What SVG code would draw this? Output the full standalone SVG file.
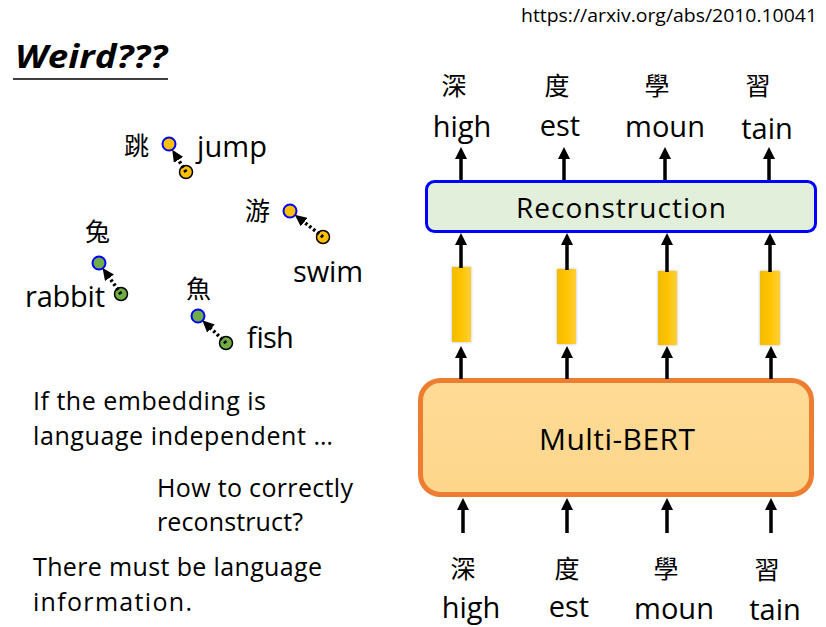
<svg xmlns="http://www.w3.org/2000/svg" width="826" height="627" viewBox="0 0 826 627">
<style>
  .t { font-family: "Open Sans", "Noto Sans CJK TC", sans-serif; fill: #000; }
  .cjk { font-family: "Noto Sans CJK TC", sans-serif; fill: #000; font-size: 25px; }
  .lab { font-size: 29px; text-anchor: middle; }
  .body { font-size: 25px; }
  .pt { font-size: 29px; }
  .arr { stroke: #000; stroke-width: 3.5; fill: none; marker-end: url(#ah); }
  .dot { stroke: #000; stroke-width: 3.5; stroke-dasharray: 2.5 2.5; fill: none; marker-end: url(#dh); }
  .yb { fill: url(#yg); filter: url(#sh); }
  .blueY { fill: #FFC000; stroke: #0000FF; stroke-width: 2; }
  .blueG { fill: #70AD47; stroke: #0000FF; stroke-width: 2; }
  .blkY { fill: #FFC000; stroke: #000; stroke-width: 1.5; }
  .blkG { fill: #70AD47; stroke: #000; stroke-width: 1.5; }
</style>
<defs>
  <marker id="ah" markerUnits="userSpaceOnUse" markerWidth="12" markerHeight="12" viewBox="0 0 12 12" refX="1" refY="6" orient="auto">
    <path d="M0,0 L12,6 L0,12 z" fill="#000"/>
  </marker>
  <marker id="dh" markerUnits="userSpaceOnUse" markerWidth="12" markerHeight="11" viewBox="0 0 12 11" refX="1" refY="5.5" orient="auto">
    <path d="M0,0 L12,5.5 L0,11 z" fill="#000"/>
  </marker>
  <linearGradient id="yg" x1="0" y1="0" x2="1" y2="0">
    <stop offset="0" stop-color="#F2BC00"/>
    <stop offset="0.5" stop-color="#FFC400"/>
    <stop offset="1" stop-color="#FFCF3A"/>
  </linearGradient>
  <linearGradient id="og" x1="0" y1="0" x2="0" y2="1">
    <stop offset="0" stop-color="#FFDB96"/>
    <stop offset="1" stop-color="#FDD68B"/>
  </linearGradient>
  <filter id="sh" x="-50%" y="-20%" width="200%" height="140%">
    <feDropShadow dx="0" dy="0" stdDeviation="1.5" flood-color="#888" flood-opacity="0.6"/>
  </filter>
</defs>
<rect width="826" height="627" fill="#fff"/>

<g id="url"><text class="t" x="817" y="22" font-size="19" text-anchor="end" textLength="296" lengthAdjust="spacingAndGlyphs">https://arxiv.org/abs/2010.10041</text></g>

<g id="title">
  <text class="t" x="15" y="68" font-size="32" font-weight="bold" font-style="italic" textLength="152" lengthAdjust="spacingAndGlyphs">Weird???</text>
  <line x1="13" y1="79" x2="168" y2="79" stroke="#000" stroke-width="1.5"/>
</g>

<g id="pt-jump">
  <text class="cjk" x="124" y="155" font-size="26">跳</text>
  <text class="t pt" x="197" y="157" textLength="70">jump</text>
  <circle class="blueY" cx="169" cy="144" r="6.5"/>
  <circle class="blkY" cx="186" cy="172" r="6.5"/>
</g>
<g id="pt-swim">
  <text class="cjk" x="245" y="220" font-size="26">游</text>
  <text class="t pt" x="293" y="282" textLength="70">swim</text>
  <circle class="blueY" cx="290" cy="211" r="6.5"/>
  <circle class="blkY" cx="323" cy="237" r="6.5"/>
</g>
<g id="pt-rabbit">
  <text class="cjk" x="85" y="241" font-size="26">兔</text>
  <text class="t pt" x="25" y="307" textLength="80">rabbit</text>
  <circle class="blueG" cx="99" cy="263" r="6.5"/>
  <circle class="blkG" cx="121" cy="294" r="6.5"/>
</g>
<g id="pt-fish">
  <text class="cjk" x="186" y="298" font-size="26">魚</text>
  <text class="t pt" x="246" y="348" textLength="47">fish</text>
  <circle class="blueG" cx="198" cy="316" r="6.5"/>
  <circle class="blkG" cx="226" cy="343" r="6.5"/>
</g>

<g id="notes">
  <text class="t body" x="33" y="410" textLength="233">If the embedding is</text>
  <text class="t body" x="33" y="445" textLength="300">language independent …</text>
  <text class="t body" x="157" y="497" textLength="196">How to correctly</text>
  <text class="t body" x="157" y="531" textLength="146">reconstruct?</text>
  <text class="t body" x="33" y="576" textLength="289">There must be language</text>
  <text class="t body" x="33" y="611" textLength="159">information.</text>
</g>

<g id="out-labels">
  <text class="cjk" x="454" y="95" text-anchor="middle" font-size="26">深</text>
  <text class="cjk" x="557" y="95" text-anchor="middle" font-size="26">度</text>
  <text class="cjk" x="657" y="95" text-anchor="middle" font-size="26">學</text>
  <text class="cjk" x="758" y="95" text-anchor="middle" font-size="26">習</text>
  <text class="t lab" x="462" y="137">high</text>
  <text class="t lab" x="560" y="136">est</text>
  <text class="t lab" x="665" y="137">moun</text>
  <text class="t lab" x="767" y="139">tain</text>
</g>

<g id="reconstruction">
  <rect x="426.5" y="181.5" width="389" height="50" rx="8" fill="#E2EFDA" stroke="#0000FF" stroke-width="3"/>
  <text class="t" x="621" y="218" font-size="28" text-anchor="middle" textLength="210">Reconstruction</text>
</g>

<g id="vectors">
  <rect class="yb" x="452" y="267" width="19" height="75"/>
  <rect class="yb" x="557" y="269" width="19" height="75"/>
  <rect class="yb" x="658" y="271" width="19" height="74"/>
  <rect class="yb" x="760" y="271" width="20" height="74"/>
</g>

<g id="multibert">
  <rect x="420.5" y="380.5" width="391" height="114" rx="20" fill="url(#og)" stroke="#ED7D31" stroke-width="5"/>
  <text class="t" x="617" y="450" font-size="30" text-anchor="middle" textLength="156">Multi-BERT</text>
</g>

<g id="in-labels">
  <text class="cjk" x="463" y="578" text-anchor="middle" font-size="26">深</text>
  <text class="cjk" x="567" y="578" text-anchor="middle" font-size="26">度</text>
  <text class="cjk" x="666" y="578" text-anchor="middle" font-size="26">學</text>
  <text class="cjk" x="767" y="579" text-anchor="middle" font-size="26">習</text>
  <text class="t lab" x="471" y="618">high</text>
  <text class="t lab" x="569" y="617">est</text>
  <text class="t lab" x="674" y="619">moun</text>
  <text class="t lab" x="775" y="620">tain</text>
</g>

<g id="connectors">
  <line class="arr" x1="461" y1="180" x2="461" y2="158"/>
  <line class="arr" x1="564" y1="180" x2="564" y2="158"/>
  <line class="arr" x1="665" y1="180" x2="665" y2="158"/>
  <line class="arr" x1="769" y1="180" x2="769" y2="158"/>

  <line class="arr" x1="461" y1="268" x2="461" y2="244"/>
  <line class="arr" x1="567" y1="270" x2="567" y2="244"/>
  <line class="arr" x1="667" y1="272" x2="667" y2="244"/>
  <line class="arr" x1="770" y1="272" x2="770" y2="244"/>

  <line class="arr" x1="461" y1="379" x2="461" y2="357"/>
  <line class="arr" x1="567" y1="379" x2="567" y2="357"/>
  <line class="arr" x1="667" y1="379" x2="667" y2="357"/>
  <line class="arr" x1="771" y1="379" x2="771" y2="357"/>

  <line class="arr" x1="463" y1="533" x2="463" y2="509"/>
  <line class="arr" x1="567" y1="533" x2="567" y2="509"/>
  <line class="arr" x1="667" y1="533" x2="667" y2="509"/>
  <line class="arr" x1="771" y1="533" x2="771" y2="509"/>

  <line class="dot" x1="186" y1="172" x2="178" y2="159"/>
  <line class="dot" x1="323" y1="237" x2="303.4" y2="221.5"/>
  <line class="dot" x1="121" y1="294" x2="108.9" y2="276.9"/>
  <line class="dot" x1="226" y1="343" x2="210.2" y2="327.8"/>
</g>
</svg>
